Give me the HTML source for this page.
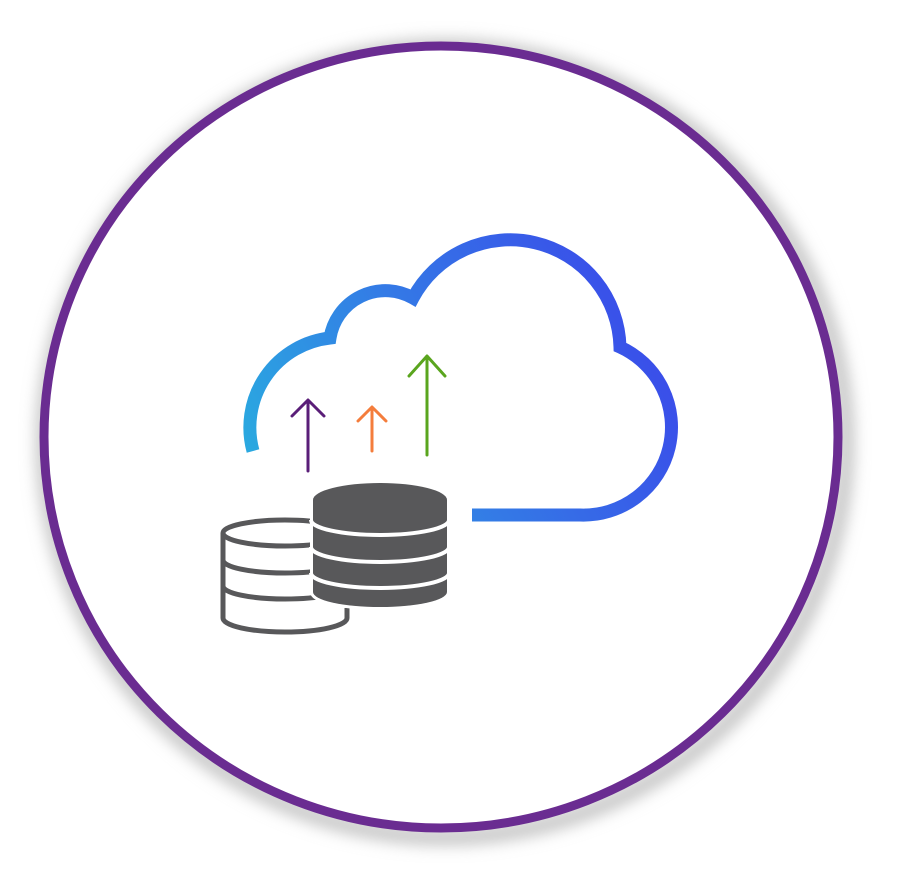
<!DOCTYPE html>
<html><head><style>html,body{margin:0;padding:0;background:#fff;}svg{display:block}</style></head>
<body>
<svg width="900" height="884" viewBox="0 0 900 884" xmlns="http://www.w3.org/2000/svg">
<defs>
<linearGradient id="g" x1="250" y1="460" x2="660" y2="260" gradientUnits="userSpaceOnUse">
<stop offset="0" stop-color="#2aa9e0"/><stop offset="0.45" stop-color="#3478e6"/><stop offset="1" stop-color="#3b45ea"/>
</linearGradient>
<filter id="sh" x="-10%" y="-10%" width="120%" height="120%"><feGaussianBlur stdDeviation="8"/></filter>
</defs>
<ellipse cx="445" cy="442" rx="401" ry="395" fill="none" stroke="#bbb" stroke-width="14" filter="url(#sh)"/>
<ellipse cx="441" cy="437" rx="397" ry="391" fill="#fff" stroke="#6a2c91" stroke-width="9"/>
<path d="M253 451 A90 90 0 0 1 330 338 A56 56 0 0 1 413 298 A110 110 0 0 1 620 347 A88 88 0 0 1 580 515 L472 515" fill="none" stroke="url(#g)" stroke-width="13"/>
<g stroke-width="3" fill="none" stroke-linecap="round" stroke-linejoin="round">
<path d="M308 471 V401 M292 416 L308 400 L324 416" stroke="#5a1e78"/>
<path d="M372 451 V408 M358 421 L372 407 L386 421" stroke="#f47d3c"/>
<path d="M427 455 V357 M409 376 L427 356 L445 376" stroke="#5aa51e"/>
</g>
<g fill="none" stroke="#58585a" stroke-width="5">
<ellipse cx="285" cy="533" rx="62" ry="13"/>
<path d="M223 533 V618 A62 14 0 0 0 347 618 V608"/>
<path d="M223 560 A62 13 0 0 0 347 560 M223 586 A62 13 0 0 0 347 586"/>
</g>
<path d="M313 500 V592 A67 15 0 0 0 447 592 V500 Z" fill="#58585a" stroke="#fff" stroke-width="6"/>
<ellipse cx="380" cy="500" rx="67" ry="17" fill="#58585a" stroke="#fff" stroke-width="6"/>
<path d="M313 500 V592 A67 15 0 0 0 447 592 V500 Z" fill="#58585a"/>
<ellipse cx="380" cy="500" rx="67" ry="17" fill="#58585a"/>
<g fill="none" stroke="#fff" stroke-width="4">
<path d="M311 520 A69 15 0 0 0 449 520"/>
<path d="M311 547 A69 15 0 0 0 449 547"/>
<path d="M311 573 A69 15 0 0 0 449 573"/>
</g>
</svg>
</body></html>
